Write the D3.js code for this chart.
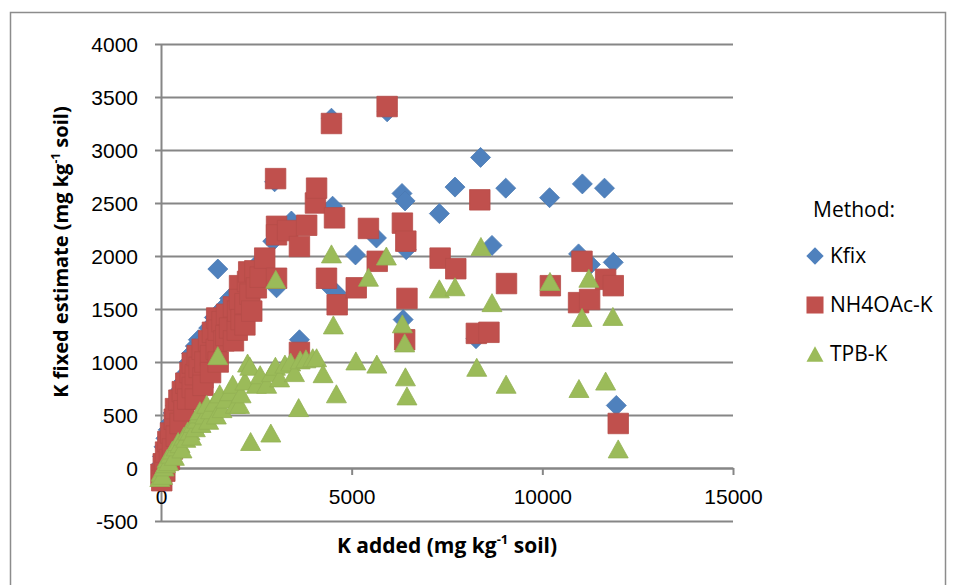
<!DOCTYPE html>
<html lang="en">
<head>
  <meta charset="UTF-8">
  <title>K fixed estimate vs K added</title>
  <style>
    body { margin: 0; background: #fff; }
    svg { display: block; font-family: "Open Sans", sans-serif; }
    .tick text { font-size: 21px; fill: #000; }
    .axis path, .axis line { stroke: #868686; stroke-width: 2px; }
    .grid line { stroke: #868686; stroke-width: 2px; }
    .grid path { display: none; }
    .title { font-size: 20px; font-weight: bold; }
    .legend text { font-size: 21px; }
  </style>
</head>
<body>
  <script src="https://d3js.org/d3.v7.min.js"></script>
  <script>
    // data: [K added, K fixed estimate] in mg/kg
    const kfix = [
      [0,30],[40,110],[80,200],[130,280],[190,360],[250,430],[320,520],
      [380,590],[450,650],[520,740],[600,820],[680,900],[740,1000],[800,1080],
      [900,1150],[980,1210],[1100,1200],[1250,1320],[1400,1420],
      [1600,1500],[1800,1600],[2000,1650],[2200,1750],[2400,1850],[2600,1950],
      [1490,1877],[2930,2140],[2980,2700],[3030,1700],[3420,2330],[3630,1210],
      [4340,1740],[4470,3300],[4500,2470],[4600,1650],[5100,2010],[5650,2170],
      [5930,3360],[6320,2590],[6400,2520],[6350,1400],[6430,2060],[7300,2400],
      [7710,2650],[8260,1220],[8380,2930],[8680,2100],[9040,2640],[10190,2550],
      [10950,2020],[11050,2680],[11260,1920],[11630,2640],[11860,1940],[11940,590]
    ];
    const nh4oac = [
      [0,-60],[20,-120],[60,40],[100,-30],[120,150],[180,250],[220,80],[250,330],
      [300,180],[350,460],[380,560],[400,300],[470,640],[500,420],[560,720],
      [600,540],[650,800],[700,650],[760,900],[820,760],[820,990],[900,880],
      [900,650],[950,1060],[1000,950],[1080,1120],[1100,850],[1100,780],
      [1150,1000],[1250,1200],[1300,1060],[1300,900],[1350,1280],[1450,1120],
      [1460,1415],[1500,1300],[1500,1000],[1600,1380],[1650,1200],[1700,1250],
      [1720,1450],[1800,1320],[1900,1520],[1900,1200],[2000,1300],[2010,1480],
      [2060,1720],[2060,1590],[2100,1400],[2200,1550],[2200,1350],[2270,1760],
      [2300,1850],[2330,1640],[2380,1480],[2460,1860],[2500,1700],[2600,1800],
      [2720,1980],
      [3005,2730],[3030,2280],[3030,2200],[3030,1790],[3320,2240],[3630,2090],
      [3630,1090],[3820,2290],[4050,2500],[4080,2640],[4340,1790],[4470,3250],
      [4550,2360],[4620,1540],[5120,1700],[5440,2260],[5670,1950],[5930,3410],
      [6330,2310],[6420,2140],[6450,1600],[6390,1210],[7320,1980],[7730,1880],
      [8270,1270],[8360,2530],[8600,1280],[9060,1740],[10210,1720],[10950,1560],
      [11040,1950],[11240,1590],[11660,1780],[11860,1720],[11990,420]
    ];
    const tpb = [
      [-30,-90],[0,-40],[40,-70],[80,10],[120,40],[160,90],[200,60],[250,130],
      [300,170],[350,110],[400,200],[450,250],[500,230],[550,180],[600,300],
      [650,280],[700,350],[760,350],[800,300],[850,420],[900,380],[950,460],
      [1000,510],[1020,540],[1050,420],[1150,500],[1200,600],[1250,450],
      [1300,550],[1400,620],[1450,500],[1490,1060],[1540,700],[1600,560],
      [1700,650],[1800,720],[1880,790],[1950,600],[2060,600],[2100,700],
      [2200,820],[2270,990],[2330,960],[2350,250],[2500,790],[2600,880],
      [2770,790],[2880,330],[2900,900],[3000,960],[3010,1780],[3110,850],
      [3250,980],[3400,1000],[3500,900],[3610,570],[3650,1020],[3800,1030],
      [3980,1040],[4080,1040],[4250,890],[4470,2020],[4520,1350],[4600,700],
      [5110,1010],[5440,1800],[5660,980],[5910,2000],[6330,1360],[6390,1180],
      [6410,860],[6450,680],[7300,1690],[7710,1710],[8280,950],[8390,2090],
      [8680,1560],[9050,790],[10200,1760],[10960,750],[11040,1420],[11220,1790],
      [11660,820],[11850,1430],[11990,180]
    ];
    const xTicks = [0, 5000, 10000, 15000];
    const yTicks = [-500, 0, 500, 1000, 1500, 2000, 2500, 3000, 3500, 4000];
    const seriesNames = ['Kfix', 'NH4OAc-K', 'TPB-K'];
    const seriesColors = ['#4f81bd', '#c0504d', '#9bbb59'];

    // marker shapes like the spreadsheet ones
    const diamond = {
      draw (ctx, size) {
        const r = Math.sqrt(size / 2);
        ctx.moveTo(0, -r); ctx.lineTo(r, 0); ctx.lineTo(0, r); ctx.lineTo(-r, 0); ctx.closePath();
      }
    };
    const triangle = {
      draw (ctx, size) {
        const w = Math.sqrt(size / 0.45), h = 0.9 * w;
        ctx.moveTo(0, -h / 2); ctx.lineTo(w / 2, h / 2); ctx.lineTo(-w / 2, h / 2); ctx.closePath();
      }
    };
    const shapes = [diamond, d3.symbolSquare, triangle];
    const plotSizes = [200, 420, 180];
    const legendSizes = [150, 290, 130];

    const WIDTH = 956, HEIGHT = 585;
    const svg = d3.select('body').append('svg')
      .attr('width', WIDTH).attr('height', HEIGHT);

    svg.append('rect')
      .attr('x', 10.5).attr('y', 12.5).attr('width', 935).attr('height', 590)
      .attr('fill', '#fff').attr('stroke', '#8c8c8c').attr('stroke-width', 1.5);

    const x = d3.scaleLinear().domain([0, 15000]).range([161, 733]);
    const y = d3.scaleLinear().domain([-500, 4000]).range([521, 44]);
    const plain = d => String(d);

    // horizontal gridlines
    svg.append('g')
      .attr('class', 'grid')
      .attr('transform', `translate(${x(0)},0)`)
      .call(d3.axisLeft(y).tickValues(yTicks).tickSize(-(x(15000) - x(0))).tickFormat(''));

    // y axis with labels
    svg.append('g')
      .attr('class', 'axis y')
      .attr('transform', `translate(${x(0)},0)`)
      .call(d3.axisLeft(y).tickValues(yTicks).tickFormat(plain).tickSize(6).tickSizeOuter(0).tickPadding(17))
      .selectAll('text').attr('dy', '0.36em');

    // x axis crossing at y = 0
    svg.append('g')
      .attr('class', 'axis x')
      .attr('transform', `translate(0,${y(0)})`)
      .call(d3.axisBottom(x).tickValues(xTicks).tickFormat(plain).tickSize(7).tickSizeOuter(0).tickPadding(14));

    // points
    [kfix, nh4oac, tpb].forEach((data, i) => {
      svg.append('g')
        .selectAll('path')
        .data(data)
        .join('path')
        .attr('transform', d => `translate(${x(d[0])},${y(d[1])})`)
        .attr('d', d3.symbol().type(shapes[i]).size(plotSizes[i]))
        .attr('fill', seriesColors[i])
        .attr('stroke', d3.color(seriesColors[i]).darker(0.15))
        .attr('stroke-width', 0.8);
    });

    // axis titles
    const yTitle = svg.append('text')
      .attr('class', 'title')
      .attr('transform', 'translate(68,252) rotate(-90)')
      .attr('text-anchor', 'middle');
    yTitle.append('tspan').text('K fixed estimate (mg kg');
    yTitle.append('tspan').attr('baseline-shift', 'super').attr('font-size', '12px').text('-1');
    yTitle.append('tspan').text(' soil)');

    const xTitle = svg.append('text')
      .attr('class', 'title')
      .attr('x', 447).attr('y', 553)
      .attr('text-anchor', 'middle')
      .style('font-size', '21px');
    xTitle.append('tspan').text('K added (mg kg');
    xTitle.append('tspan').attr('baseline-shift', 'super').attr('font-size', '13px').text('-1');
    xTitle.append('tspan').text(' soil)');

    // legend
    const legend = svg.append('g').attr('class', 'legend');
    legend.append('text').attr('x', 813).attr('y', 217).text('Method:');
    seriesNames.forEach((name, i) => {
      const ly = 256 + i * 49;
      legend.append('path')
        .attr('transform', `translate(815,${ly})`)
        .attr('d', d3.symbol().type(shapes[i]).size(legendSizes[i]))
        .attr('fill', seriesColors[i]);
      legend.append('text').attr('x', 830).attr('y', ly + 7).text(name);
    });
  </script>
</body>
</html>
